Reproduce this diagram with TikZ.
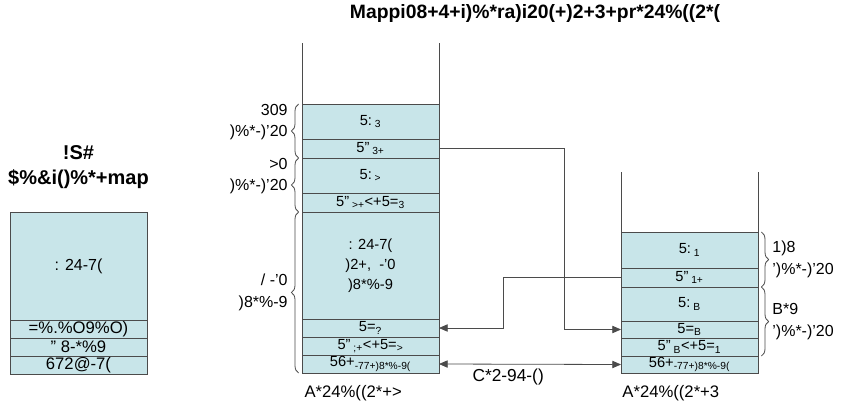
\documentclass[tikz,border=0pt]{standalone}
\usepackage{fontspec}
\setmainfont{Liberation Sans}
\usepackage{tikz}
\usetikzlibrary{arrows.meta,positioning,decorations.pathreplacing}
\usepackage{xcolor}
\definecolor{CellBlue}{RGB}{200,229,233}
\definecolor{CellLine}{RGB}{75,75,75}

\begin{document}
\begin{tikzpicture}[x=0.75pt,y=-0.75pt,node distance=0pt,
  cell/.style={draw=CellLine,fill=CellBlue,line width=0.6pt,minimum width=102.75pt,
    inner sep=0pt,outer sep=0pt,align=center,font=\fontsize{11}{15}\selectfont},
  lbl/.style={font=\fontsize{12}{16}\selectfont,inner sep=0pt},
  brc/.style={decorate,decoration={brace,amplitude=5.5pt},draw=CellLine,line width=0.6pt},
  link/.style={draw=CellLine,line width=0.6pt,-{Triangle[length=6.5pt,width=5.5pt]}},
  twoway/.style={link,{Triangle[length=6.5pt,width=5.5pt]}-{Triangle[length=6.5pt,width=5.5pt]}}]
\useasboundingbox (0,0) rectangle (845,407);

% title
\node[font=\fontsize{14.5}{16}\selectfont\bfseries] (title) at (535,14)
  {Mappi08+4+i)\%*ra)i20(+)2+3+pr*24\%((2*(};

% left box
\node[cell,minimum height=81pt,anchor=north,font=\fontsize{12}{15}\selectfont] (l1) at (78.5,212) {: 24-7(};
\node[cell,minimum height=13.5pt,below=of l1,font=\fontsize{12.5}{15}\selectfont] (l2) {=\%.\%O9\%O)};
\node[cell,minimum height=13.5pt,below=of l2,font=\fontsize{12.5}{15}\selectfont] (l3) {" 8-*\%9};
\node[cell,minimum height=13.5pt,below=of l3,font=\fontsize{12.5}{15}\selectfont] (l4) {672@-7(};
\node[above=14pt of l1,align=center,font=\fontsize{15}{19}\selectfont\bfseries] (ltitle)
  {!S\#\\\$\%\&i()\%*+map};

% middle stack
\node[cell,minimum height=26.25pt,anchor=north] (m1) at (370.5,104) {5:\textsubscript{ 3}};
\node[cell,minimum height=14.25pt,below=of m1] (m2) {5"\textsubscript{ 3+}};
\node[cell,minimum height=26.25pt,below=of m2] (m3) {5:\textsubscript{ >}};
\node[cell,minimum height=14.25pt,below=of m3] (m4) {5"\textsubscript{ >+}<+5=\textsubscript{3}};
\node[cell,minimum height=80.25pt,below=of m4] (m5) {: 24-7(\\)2+,\ \ -'0\\)8*\%-9};
\node[cell,minimum height=13.5pt,below=of m5] (m6) {5=\textsubscript{?}};
\node[cell,minimum height=13.5pt,below=of m6] (m7) {5"\textsubscript{ ;+}<+5=\textsubscript{>}};
\node[cell,minimum height=13.5pt,below=of m7] (m8) {56+\textsubscript{-77+)8*\%-9(}};
\draw[CellLine,line width=0.6pt] (m1.north west) -- ++(0,-61);
\draw[CellLine,line width=0.6pt] (m1.north east) -- ++(0,-61);
\node[lbl,below=9pt of m8,xshift=-13pt,font=\fontsize{12.5}{15}\selectfont] (mname) {A*24\%((2*+>};

% right stack
\node[cell,minimum height=27pt,anchor=north] (r1) at (689.5,232) {5:\textsubscript{ 1}};
\node[cell,minimum height=14.25pt,below=of r1] (r2) {5"\textsubscript{ 1+}};
\node[cell,minimum height=25.5pt,below=of r2] (r3) {5:\textsubscript{ B}};
\node[cell,minimum height=12.75pt,below=of r3] (r4) {5=\textsubscript{B}};
\node[cell,minimum height=13.5pt,below=of r4] (r5) {5"\textsubscript{ B}<+5=\textsubscript{1}};
\node[cell,minimum height=12.75pt,below=of r5] (r6) {56+\textsubscript{-77+)8*\%-9(}};
\draw[CellLine,line width=0.6pt] (r1.north west) -- ++(0,-60);
\draw[CellLine,line width=0.6pt] (r1.north east) -- ++(0,-60);
\node[lbl,below=9pt of r6,xshift=-14pt,font=\fontsize{12.5}{15}\selectfont] (rname) {A*24\%((2*+3};

% braces
\draw[brc] ([xshift=-2.5pt]m2.south west) -- ([xshift=-2.5pt]m1.north west)
  node[lbl,midway,left=8pt,yshift=6.5pt,align=right] {309\\)\%*-)'20};
\draw[brc] ([xshift=-2.5pt]m4.south west) -- ([xshift=-2.5pt]m3.north west)
  node[lbl,midway,left=8pt,yshift=6.5pt,align=right] {>0\\)\%*-)'20};
\draw[brc] ([xshift=-2.5pt]m8.south west) -- ([xshift=-2.5pt]m5.north west)
  node[lbl,midway,left=8pt,align=right] {/ -'0\\)8*\%-9};
\draw[brc] ([xshift=2.5pt]r1.north east) -- ([xshift=2.5pt]r2.south east)
  node[lbl,midway,right=8pt,align=left] {1)8\\')\%*-)'20};
\draw[brc] ([xshift=2.5pt]r3.north east) -- ([xshift=2.5pt]r5.south east)
  node[lbl,midway,right=8pt,align=left] {B*9\\')\%*-)'20};

% transfers
\draw[link] (m2.east) -- ++(125,0) |- (r4.west);
\draw[link] (r2.west) -- ++(-118,0) |- (m6.east);
\draw[twoway] (m8.east) -- (r6.west)
  node[lbl,pos=0.38,below=3pt,font=\fontsize{13}{15}\selectfont] {C*2-94-()};
\end{tikzpicture}
\end{document}
